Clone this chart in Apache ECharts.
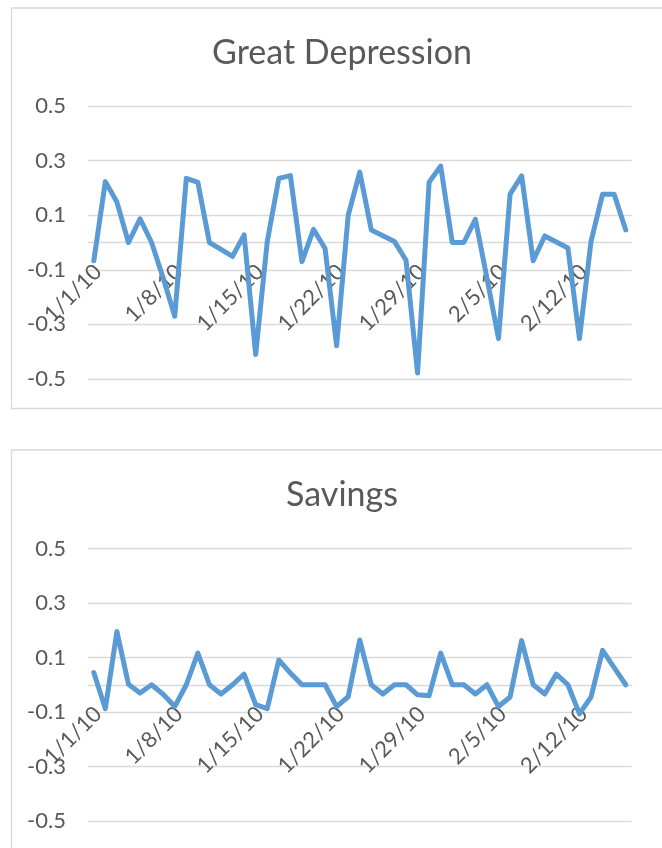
<!DOCTYPE html>
<html>
<head>
<meta charset="utf-8">
<script src="https://cdn.jsdelivr.net/npm/echarts@6/dist/echarts.min.js"></script>
<style>
  html, body { margin: 0; padding: 0; background: #fff; }
  #chart { width: 662px; height: 848px; }
</style>
</head>
<body>
<div id="chart"></div>
<script>
// Daily dates shown on both category axes
const categories = [
  '1/1/10','1/2/10','1/3/10','1/4/10','1/5/10','1/6/10','1/7/10',
  '1/8/10','1/9/10','1/10/10','1/11/10','1/12/10','1/13/10','1/14/10',
  '1/15/10','1/16/10','1/17/10','1/18/10','1/19/10','1/20/10','1/21/10',
  '1/22/10','1/23/10','1/24/10','1/25/10','1/26/10','1/27/10','1/28/10',
  '1/29/10','1/30/10','1/31/10','2/1/10','2/2/10','2/3/10','2/4/10',
  '2/5/10','2/6/10','2/7/10','2/8/10','2/9/10','2/10/10','2/11/10',
  '2/12/10','2/13/10','2/14/10','2/15/10','2/16/10'
];

// "Great Depression" series
const greatDepression = [
  -0.067, 0.223, 0.148, 0.0, 0.087, 0.0, -0.13,
  -0.27, 0.235, 0.22, 0.0, -0.025, -0.051, 0.028,
  -0.41, 0.003, 0.235, 0.245, -0.07, 0.048, -0.022,
  -0.378, 0.099, 0.258, 0.046, 0.025, 0.004, -0.065,
  -0.478, 0.221, 0.28, 0.0, 0.0, 0.085, -0.13,
  -0.352, 0.177, 0.244, -0.067, 0.024, 0.002, -0.02,
  -0.352, 0.004, 0.177, 0.177, 0.046
];

// "Savings" series
const savings = [
  0.045, -0.088, 0.195, 0.002, -0.03, 0.0, -0.035,
  -0.08, 0.0, 0.116, 0.0, -0.034, 0.0, 0.039,
  -0.073, -0.088, 0.091, 0.043, 0.0, 0.0, 0.0,
  -0.08, -0.044, 0.164, 0.0, -0.034, 0.0, 0.0,
  -0.037, -0.04, 0.116, 0.0, 0.0, -0.034, 0.0,
  -0.08, -0.045, 0.162, 0.0, -0.034, 0.039, 0.0,
  -0.107, -0.045, 0.126, 0.063, 0.0
];

// Value-axis range and step
const yMin = -0.5;
const yMax = 0.5;
const yStep = 0.2;

const FONT = 'Lato';
const TEXT = '#595959';
const LINE = '#d9d9d9';
const BLUE = '#5b9bd5';

// Plot-area boxes of the two panels
const grids = [
  { left: 88, right: 30.5, top: 106, height: 273 },
  { left: 88, right: 30.5, top: 548.5, height: 272.5 }
];

const chart = echarts.init(document.getElementById('chart'), null, { renderer: 'canvas' });

// Category axis raised so it crosses the value axis at zero
function xAxisFor(gridIndex) {
  const h = grids[gridIndex].height;
  return {
    type: 'category',
    gridIndex: gridIndex,
    data: categories,
    boundaryGap: true,
    position: 'bottom',
    offset: -h * (0 - yMin) / (yMax - yMin),
    axisLine: { onZero: false, lineStyle: { color: LINE, width: 1.3 } },
    axisTick: { show: false },
    axisLabel: {
      interval: 6,
      rotate: 45,
      margin: 30,
      padding: [0, -6, 0, 0],
      color: TEXT,
      fontFamily: FONT,
      fontSize: 22
    },
    splitLine: { show: false }
  };
}

function yAxisFor(gridIndex) {
  return {
    type: 'value',
    gridIndex: gridIndex,
    min: yMin,
    max: yMax,
    interval: yStep,
    axisLine: { show: false },
    axisTick: { show: false },
    axisLabel: {
      margin: 22,
      color: TEXT,
      fontFamily: FONT,
      fontSize: 22,
      formatter: v => v.toFixed(1)
    },
    splitLine: { lineStyle: { color: LINE, width: 1.3 } }
  };
}

function lineSeries(idx, values) {
  return {
    type: 'line',
    xAxisIndex: idx,
    yAxisIndex: idx,
    data: values,
    showSymbol: false,
    symbol: 'none',
    lineStyle: { color: BLUE, width: 5, join: 'round', cap: 'round' },
    itemStyle: { color: BLUE },
    animation: false
  };
}

chart.setOption({
  animation: false,
  backgroundColor: '#ffffff',
  title: [
    {
      text: 'Great Depression',
      left: 337, top: 31, textAlign: 'center',
      textStyle: { color: TEXT, fontFamily: FONT, fontSize: 34, fontWeight: 'normal' }
    },
    {
      text: 'Savings',
      left: 337, top: 473, textAlign: 'center',
      textStyle: { color: TEXT, fontFamily: FONT, fontSize: 34, fontWeight: 'normal' }
    }
  ],
  graphic: [
    {
      type: 'rect', silent: true, z: -1,
      shape: { x: 11.5, y: 8, width: 700, height: 400.5 },
      style: { fill: 'none', stroke: LINE, lineWidth: 1.3 }
    },
    {
      type: 'rect', silent: true, z: -1,
      shape: { x: 11.5, y: 450, width: 700, height: 420 },
      style: { fill: 'none', stroke: LINE, lineWidth: 1.3 }
    }
  ],
  grid: grids,
  xAxis: [xAxisFor(0), xAxisFor(1)],
  yAxis: [yAxisFor(0), yAxisFor(1)],
  series: [lineSeries(0, greatDepression), lineSeries(1, savings)]
});
</script>
</body>
</html>
